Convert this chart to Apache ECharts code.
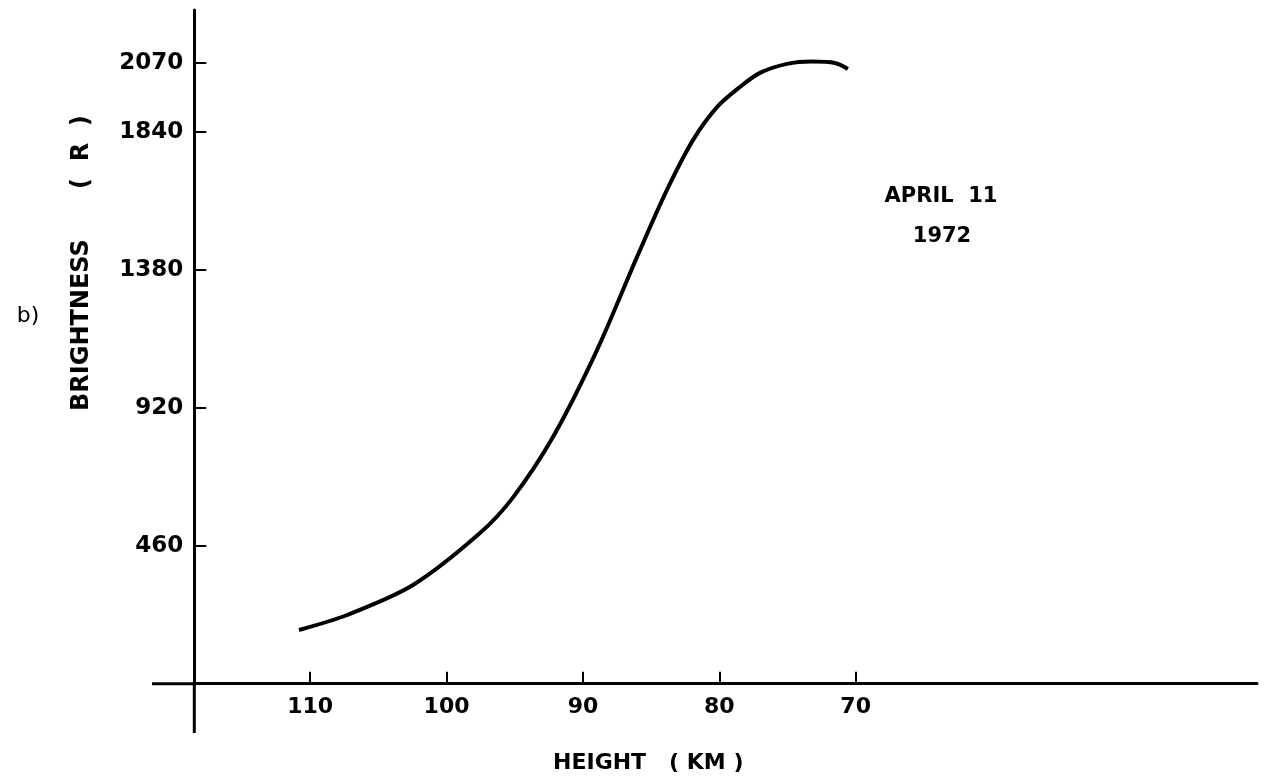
<!DOCTYPE html>
<html>
<head>
<meta charset="utf-8">
<script src="https://cdn.jsdelivr.net/npm/echarts@6/dist/echarts.min.js"></script>
<style>
html,body{margin:0;padding:0;background:#fff;}
#chart{width:1268px;height:780px;}
</style>
</head>
<body>
<div id="chart"></div>
<script>
// Data
const heightKm =    [110.82, 107.3, 102.46, 97.55, 95.11, 92.2, 88.97, 86.04, 83.84, 81.93, 80.17, 78.49, 77.02, 75.04, 73.21, 71.52, 70.57];
const brightnessR = [179,    229,   329,    502,   622,   822,  1112,  1422,  1646,  1812,  1922,  1989,  2036,  2066,  2074,  2069,  2049];
const xTicks = [110, 100, 90, 80, 70];
const yTicks = [460, 920, 1380, 1840, 2070];

const chart = echarts.init(document.getElementById('chart'));
const font = 'DejaVu Sans';
chart.setOption({
  animation: false,
  backgroundColor: '#fff',
  grid: { left: 194.3, right: 11, top: 10, bottom: 96.3 },
  xAxis: {
    type: 'value',
    inverse: true,
    min: 40.57,
    max: 118.5,
    axisLine: { show: true, onZero: false, lineStyle: { color: '#000', width: 3 } },
    axisTick: { show: true, inside: true, length: 12, customValues: xTicks, lineStyle: { color: '#000', width: 2 } },
    axisLabel: { customValues: xTicks, margin: 13, color: '#000', fontFamily: font, fontWeight: 'bold', fontSize: 22 },
    splitLine: { show: false }
  },
  yAxis: {
    type: 'value',
    min: 0,
    max: 2245.7,
    axisLine: { show: true, onZero: false, lineStyle: { color: '#000', width: 3 } },
    axisTick: { show: true, inside: true, length: 12, customValues: yTicks, lineStyle: { color: '#000', width: 2 } },
    axisLabel: { customValues: yTicks, margin: 11, color: '#000', fontFamily: font, fontWeight: 'bold', fontSize: 23, formatter: v => String(v) },
    splitLine: { show: false }
  },
  graphic: [
    { type: 'line', shape: { x1: 152, y1: 683.7, x2: 196, y2: 683.7 }, style: { stroke: '#000', lineWidth: 3 } },
    { type: 'line', shape: { x1: 194.3, y1: 683, x2: 194.3, y2: 733 }, style: { stroke: '#000', lineWidth: 3 } },
    { type: 'text', x: 553, y: 763, style: { text: 'HEIGHT   ( KM )', font: 'bold 22px "DejaVu Sans"', fill: '#000', verticalAlign: 'middle', align: 'left' } },
    { type: 'text', x: 82, y: 411, rotation: Math.PI / 2, style: { text: 'BRIGHTNESS      (  R  )', font: 'bold 24px "DejaVu Sans"', fill: '#000', verticalAlign: 'middle', align: 'left' } },
    { type: 'text', x: 28, y: 316, style: { text: 'b)', font: '22px "DejaVu Sans"', fill: '#000', verticalAlign: 'middle', align: 'center' } },
    { type: 'text', x: 941, y: 197, style: { text: 'APRIL  11', font: 'bold 21px "DejaVu Sans"', fill: '#000', verticalAlign: 'middle', align: 'center' } },
    { type: 'text', x: 942, y: 237, style: { text: '1972', font: 'bold 21px "DejaVu Sans"', fill: '#000', verticalAlign: 'middle', align: 'center' } }
  ],
  series: [{
    type: 'line',
    data: heightKm.map((h, i) => [h, brightnessR[i]]),
    smooth: 0.3,
    symbol: 'none',
    lineStyle: { color: '#000', width: 4 }
  }]
});
</script>
</body>
</html>
